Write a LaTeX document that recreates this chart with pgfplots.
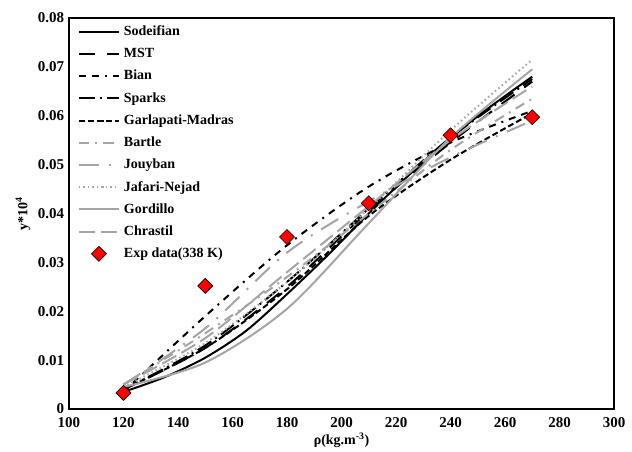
\documentclass[border=0pt]{standalone}
\usepackage{fontspec}
\setmainfont{Liberation Serif}
\usepackage{pgfplots}
\pgfplotsset{compat=1.18}
\definecolor{lg}{RGB}{165,165,165}
\pgfplotsset{expleg/.style={legend image code/.code={\draw[##1] plot coordinates {(20bp,0bp)};}}}
\begin{document}
\fontsize{14bp}{16bp}\selectfont\bfseries
\begin{tikzpicture}
\path[use as bounding box] (-69bp,-43bp) rectangle (563bp,409bp);
\begin{axis}[
  scale only axis, width=545bp, height=391bp,
  xmin=100, xmax=300, ymin=0, ymax=0.08,
  xtick={100,120,...,300},
  ytick={0,0.01,...,0.08},
  yticklabels={0,0.01,0.02,0.03,0.04,0.05,0.06,0.07,0.08},
  scaled y ticks=false,
  major tick length=0pt,
  axis line style={line width=1.5bp},
  /pgf/number format/assume math mode=true,
  ticklabel style={font=\fontsize{15bp}{17bp}\selectfont\bfseries},
  xticklabel style={yshift=-4bp},
  xlabel={ρ(kg.m\textsuperscript{-3})},
  ylabel={y*10\textsuperscript{4}},
  label style={font=\fontsize{14bp}{16bp}\selectfont\bfseries},
  xlabel style={yshift=4.5bp},
  ylabel style={yshift=-2bp},
  legend cell align=left,
  legend style={at={([xshift=4bp]0.005,0.99)}, anchor=north west, draw=none, fill=none,
    font=\fontsize{14bp}{16bp}\selectfont\bfseries, row sep=6.4bp, column sep=3bp, inner sep=2bp,
    nodes={inner xsep=1bp}},
  legend image code/.code={\draw[#1] plot coordinates {(0bp,0bp) (40bp,0bp)};},
  every axis plot/.append style={line width=2bp, smooth},
]
\addplot[black] coordinates {(120,0.0035)(135,0.0065)(150,0.0105)(165,0.016)(180,0.0235)(195,0.0315)(210,0.040)(225,0.048)(240,0.0555)(255,0.062)(270,0.068)};
\addlegendentry{Sodeifian}
\addplot[black, dash pattern=on 16bp off 12bp] coordinates {(120,0.004)(150,0.0125)(180,0.025)(210,0.0405)(240,0.0545)(270,0.067)};
\addlegendentry{MST}
\addplot[black, dash pattern=on 7bp off 6bp on 7bp off 6bp on 2bp off 6bp] coordinates {(120,0.0035)(150,0.019)(180,0.0335)(210,0.0455)(240,0.0545)(270,0.061)};
\addlegendentry{Bian}
\addplot[black, dash pattern=on 16bp off 5bp on 2bp off 5bp] coordinates {(120,0.004)(150,0.013)(180,0.026)(210,0.041)(240,0.0555)(270,0.0675)};
\addlegendentry{Sparks}
\addplot[black, dash pattern=on 6bp off 3bp] coordinates {(120,0.004)(150,0.0125)(180,0.0245)(210,0.0395)(240,0.051)(270,0.0605)};
\addlegendentry{Garlapati-Madras}
\addplot[lg, dash pattern=on 10bp off 6bp on 2bp off 6bp] coordinates {(120,0.005)(150,0.0155)(180,0.027)(210,0.040)(240,0.053)(270,0.0635)};
\addlegendentry{Bartle}
\addplot[lg, dash pattern=on 20bp off 10bp on 2bp off 10bp] coordinates {(120,0.005)(150,0.0165)(180,0.032)(210,0.0425)(240,0.0515)(270,0.059)};
\addlegendentry{Jouyban}
\addplot[lg, dash pattern=on 1.5bp off 3bp] coordinates {(120,0.0045)(150,0.0135)(180,0.026)(210,0.041)(240,0.057)(270,0.0715)};
\addlegendentry{Jafari-Nejad}
\addplot[lg] coordinates {(120,0.0045)(150,0.0095)(180,0.0205)(210,0.038)(240,0.0555)(270,0.0695)};
\addlegendentry{Gordillo}
\addplot[lg, dash pattern=on 16bp off 6bp] coordinates {(120,0.005)(150,0.0145)(180,0.028)(210,0.0415)(240,0.055)(270,0.066)};
\addlegendentry{Chrastil}
\addplot[only marks, mark=square*, mark size=5.3bp, mark options={rotate=45, fill=red, draw=black, line width=0.6bp}, expleg] coordinates {(120,0.0033)(150,0.0252)(180,0.0352)(210,0.0421)(240,0.0560)(270,0.0597)};
\addlegendentry{Exp data(338 K)}
\end{axis}
\end{tikzpicture}
\end{document}
